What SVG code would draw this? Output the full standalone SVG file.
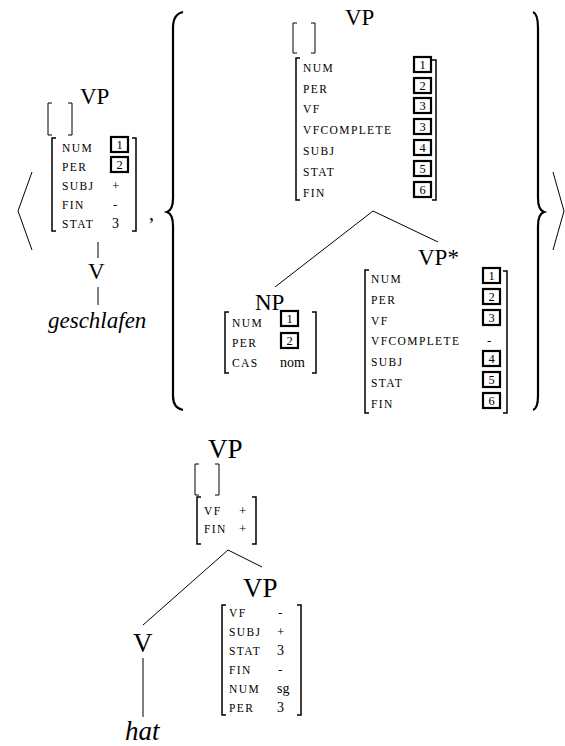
<svg xmlns="http://www.w3.org/2000/svg" width="565" height="746" viewBox="0 0 565 746" font-family="'Liberation Serif', 'DejaVu Serif', serif">
<style>
text{font-family:"Liberation Serif","DejaVu Serif",serif;fill:#000}
.cat{font-size:23px}
.big{font-size:27px}
.lab{font-size:11.5px;letter-spacing:1.4px}
.val{font-size:13px}
.num{font-size:12.5px;text-anchor:middle}
.it{font-style:italic;font-size:23px}
.br{fill:none;stroke:#000;stroke-width:1.5}
.eb{fill:none;stroke:#000;stroke-width:1}
.box{fill:#fff;stroke:#000;stroke-width:2.2}
.ln{fill:none;stroke:#000;stroke-width:1}
.brace{fill:none;stroke:#000;stroke-width:2.2}
</style>
<rect width="565" height="746" fill="#fff"/>

<g id="outer">
<polyline class="ln" points="32,172 18,211 32,250" stroke-width="1.3"/>
<polyline class="ln" points="553,172 564,211 553,250" stroke-width="1.3"/>
<text x="149" y="220" style="font-size:20px">,</text>
<path class="brace" d="M183,12 Q173,14 173,28 L173,198 Q173,210 167,212 Q173,214 173,226 L173,396 Q173,408 183,410"/>
<path class="brace" d="M533,12 Q538,14 538,28 L538,198 Q538,210 544,212 Q538,214 538,226 L538,396 Q538,408 533,410"/>
</g>

<g id="connectors">
<line class="ln" x1="98" y1="242" x2="98" y2="258"/>
<line class="ln" x1="98" y1="287" x2="98" y2="305"/>
<line class="ln" x1="373" y1="211" x2="275" y2="287"/>
<line class="ln" x1="373" y1="211" x2="438" y2="242"/>
<line class="ln" x1="228" y1="550" x2="143" y2="625"/>
<line class="ln" x1="228" y1="550" x2="262" y2="567"/>
<line class="ln" x1="143" y1="658" x2="143" y2="717"/>
</g>

<g id="vp-left">
<text class="cat" x="80" y="104">VP</text>
<path class="eb" d="M52,103 H48 V135 H52 M68,103 H72 V135 H68"/>
<path class="br" d="M56,138 H52 V231 H56 M132,138 H136 V231 H132"/>
<text class="lab" x="62" y="152">NUM</text>
<text class="lab" x="62" y="171">PER</text>
<text class="lab" x="62" y="190">SUBJ</text>
<text class="lab" x="62" y="209">FIN</text>
<text class="lab" x="62" y="228">STAT</text>
<rect class="box" x="111" y="137" width="17" height="15"/>
<text class="num" x="119.5" y="149">1</text>
<rect class="box" x="111" y="157" width="17" height="15"/>
<text class="num" x="119.5" y="169">2</text>
<text class="val" x="112" y="190">+</text>
<text class="val" x="113" y="209">-</text>
<text class="val" x="112" y="228" style="font-size:14px">3</text>
</g>

<g id="v-left">
<text class="cat" x="88" y="279">V</text>
</g>
<g id="geschlafen">
<text class="it" x="48" y="328">geschlafen</text>
</g>

<g id="vp-top">
<text class="cat" x="345" y="25">VP</text>
<path class="eb" d="M297,23 H293 V53 H297 M311,23 H315 V53 H311"/>
<path class="br" d="M300,58 H296 V200 H300 M432,60 H436 V200 H432"/>
<text class="lab" x="303" y="72">NUM</text>
<text class="lab" x="303" y="93">PER</text>
<text class="lab" x="303" y="113">VF</text>
<text class="lab" x="303" y="134">VFCOMPLETE</text>
<text class="lab" x="303" y="155">SUBJ</text>
<text class="lab" x="303" y="176">STAT</text>
<text class="lab" x="303" y="197">FIN</text>
<rect class="box" x="414" y="57" width="17" height="15"/><text class="num" x="422.5" y="69">1</text>
<rect class="box" x="414" y="78" width="17" height="15"/><text class="num" x="422.5" y="90">2</text>
<rect class="box" x="414" y="98" width="17" height="15"/><text class="num" x="422.5" y="110">3</text>
<rect class="box" x="414" y="119" width="17" height="15"/><text class="num" x="422.5" y="131">3</text>
<rect class="box" x="414" y="140" width="17" height="15"/><text class="num" x="422.5" y="152">4</text>
<rect class="box" x="414" y="161" width="17" height="15"/><text class="num" x="422.5" y="173">5</text>
<rect class="box" x="414" y="182" width="17" height="15"/><text class="num" x="422.5" y="194">6</text>
</g>

<g id="np">
<text class="cat" x="255" y="310">NP</text>
<path class="br" d="M229,312 H225 V373 H229 M312,312 H316 V373 H312"/>
<text class="lab" x="232" y="327">NUM</text>
<text class="lab" x="232" y="347">PER</text>
<text class="lab" x="232" y="367">CAS</text>
<rect class="box" x="281" y="311" width="17" height="15"/><text class="num" x="289.5" y="323">1</text>
<rect class="box" x="281" y="333" width="17" height="15"/><text class="num" x="289.5" y="345">2</text>
<text class="val" x="280" y="367" style="font-size:14px">nom</text>
</g>

<g id="vp-star">
<text class="cat" x="418" y="265">VP*</text>
<path class="br" d="M369,270 H365 V413 H369 M503,271 H507 V413 H503"/>
<text class="lab" x="371" y="283">NUM</text>
<text class="lab" x="371" y="304">PER</text>
<text class="lab" x="371" y="325">VF</text>
<text class="lab" x="371" y="345">VFCOMPLETE</text>
<text class="lab" x="371" y="366">SUBJ</text>
<text class="lab" x="371" y="387">STAT</text>
<text class="lab" x="371" y="408">FIN</text>
<rect class="box" x="483" y="268" width="17" height="15"/><text class="num" x="491.5" y="280">1</text>
<rect class="box" x="483" y="289" width="17" height="15"/><text class="num" x="491.5" y="301">2</text>
<rect class="box" x="483" y="310" width="17" height="15"/><text class="num" x="491.5" y="322">3</text>
<text class="val" x="487" y="345">-</text>
<rect class="box" x="483" y="351" width="17" height="15"/><text class="num" x="491.5" y="363">4</text>
<rect class="box" x="483" y="372" width="17" height="15"/><text class="num" x="491.5" y="384">5</text>
<rect class="box" x="483" y="393" width="17" height="15"/><text class="num" x="491.5" y="405">6</text>
</g>

<g id="vp-bottom">
<text class="big" x="208" y="458">VP</text>
<path class="eb" d="M199,464 H195 V495 H199 M215,464 H219 V495 H215"/>
<path class="br" d="M201,497 H197 V544 H201 M252,497 H256 V544 H252"/>
<text class="lab" x="204" y="515">VF</text>
<text class="lab" x="204" y="533">FIN</text>
<text class="val" x="239" y="515">+</text>
<text class="val" x="239" y="533">+</text>
</g>

<g id="v-bottom">
<text class="big" x="133" y="652">V</text>
</g>
<g id="hat">
<text class="it" x="125" y="740" style="font-size:27px">hat</text>
</g>

<g id="vp-bottom2">
<text class="big" x="243" y="597">VP</text>
<path class="br" d="M226,605 H222 V715 H226 M297,605 H301 V715 H297"/>
<text class="lab" x="229" y="617">VF</text>
<text class="lab" x="229" y="636">SUBJ</text>
<text class="lab" x="229" y="655">STAT</text>
<text class="lab" x="229" y="674">FIN</text>
<text class="lab" x="229" y="693">NUM</text>
<text class="lab" x="229" y="712">PER</text>
<text class="val" x="278" y="617">-</text>
<text class="val" x="277" y="636">+</text>
<text class="val" x="277" y="655" style="font-size:14px">3</text>
<text class="val" x="278" y="674">-</text>
<text class="val" x="277" y="693" style="font-size:14px">sg</text>
<text class="val" x="277" y="712" style="font-size:14px">3</text>
</g>
</svg>
